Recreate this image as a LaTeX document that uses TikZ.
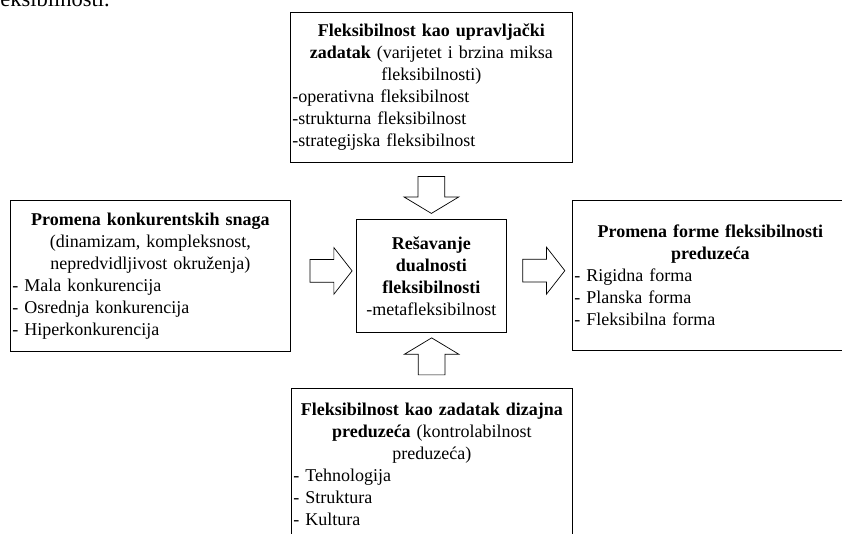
\documentclass[tikz,border=0pt]{standalone}
\usepackage{fontspec}
\setmainfont{Liberation Serif}
\usetikzlibrary{shapes.arrows,calc}

\begin{document}
\begin{tikzpicture}[x=1bp,y=-1bp,
  txt/.style={font=\fontsize{18bp}{22bp}\selectfont},
  box/.style={draw, line width=0.8bp, txt, inner xsep=2bp, inner ysep=0pt,
    anchor=north west},
  blockarrow/.style={draw, single arrow, line width=0.7bp, fill=white,
    inner xsep=0pt, single arrow head indent=0pt},
  vert/.style={blockarrow, minimum height=37bp, inner ysep=13bp,
    single arrow head extend=14bp, single arrow tip angle=118},
  horiz/.style={blockarrow, minimum height=42bp, inner ysep=11bp,
    single arrow head extend=12bp, single arrow tip angle=104}]

\clip (0,0) rectangle (842,534);

% end of the preceding line of text
\node[anchor=base east, inner sep=0pt, font=\fontsize{22.5bp}{26bp}\selectfont] (prev) at (110,7) {fleksibilnosti.};

% task of management
\node[box, text width=278bp, minimum height=150bp] (top) at (290,12)
  {\centering\textbf{Fleksibilnost kao upravljački}\\
   \textbf{zadatak} (varijetet i brzina miksa\\
   fleksibilnosti)\par
   \raggedright -operativna fleksibilnost\\
   -strukturna fleksibilnost\\
   -strategijska fleksibilnost\par};

% competitive forces
\node[box, text width=276bp, minimum height=151bp] (left) at (10,200)
  {\centering\textbf{Promena konkurentskih snaga}\\
   (dinamizam, kompleksnost,\\
   nepredvidljivost okruženja)\par
   \raggedright - Mala konkurencija\\
   - Osrednja konkurencija\\
   - Hiperkonkurencija\par};

% duality in the middle
\node[box, text width=146bp, minimum height=113bp] (mid) at (356,219)
  {\centering\textbf{Rešavanje}\\
   \textbf{dualnosti}\\
   \textbf{fleksibilnosti}\\
   -metafleksibilnost\par};

% resulting form
\node[box, text width=272bp, minimum height=150bp] (right) at (572,200)
  {\centering\textbf{Promena forme fleksibilnosti}\\
   \textbf{preduzeća}\par
   \raggedright - Rigidna forma\\
   - Planska forma\\
   - Fleksibilna forma\par};

% task of organisational design
\node[box, text width=277bp, minimum height=152bp] (bottom) at (291,388)
  {\centering\textbf{Fleksibilnost kao zadatak dizajna}\\
   \textbf{preduzeća} (kontrolabilnost\\
   preduzeća)\par
   \raggedright - Tehnologija\\
   - Struktura\\
   - Kultura\par};

% block arrows between the boxes
\node[vert, rotate=-90] (adown) at ($(top.south)!0.5!(mid.north)$) {};
\node[vert, rotate=90] (aup) at ($(mid.south)!0.5!(bottom.north)$) {};
\node[horiz, yshift=5bp] (aleft) at ($(left.east)!0.55!(mid.west)$) {};
\node[horiz, yshift=5bp] (aright) at ($(mid.east)!0.5!(right.west)$) {};

\end{tikzpicture}
\end{document}
